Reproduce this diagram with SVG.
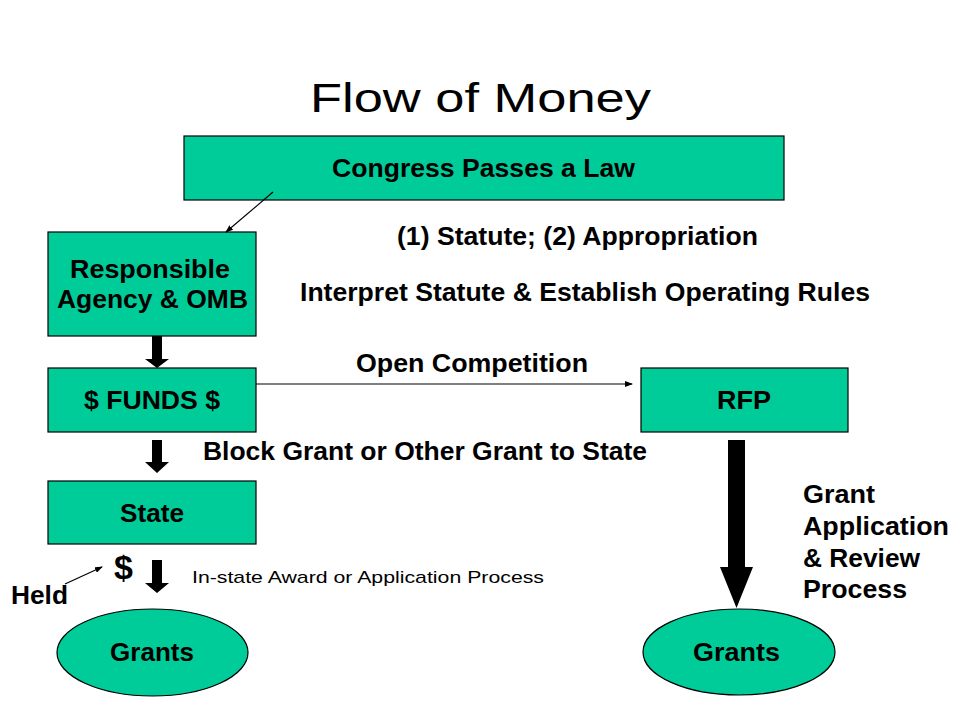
<svg xmlns="http://www.w3.org/2000/svg" width="960" height="720" viewBox="0 0 960 720">
<defs>
<style>
.box{fill:#00CC99;stroke:#000;stroke-width:1.2}
.t{font-family:"Liberation Sans",Arial,sans-serif;font-weight:bold;font-size:25px;fill:#000}
.title{font-family:"Liberation Sans",Arial,sans-serif;font-size:40px;fill:#000}
.small{font-family:"Liberation Sans",Arial,sans-serif;font-size:17px;fill:#000}
.thin{stroke:#000;stroke-width:1.2;fill:none;marker-end:url(#ah)}
.fat{fill:#000}
</style>
<marker id="ah" markerWidth="8" markerHeight="6" refX="7" refY="3" orient="auto" markerUnits="userSpaceOnUse">
<path d="M0,0 L8,3 L0,6 Z" fill="#000"/>
</marker>
</defs>
<rect width="960" height="720" fill="#fff"/>
<text class="title" x="310" y="112" textLength="341" lengthAdjust="spacingAndGlyphs">Flow of Money</text>

<g id="congress">
<rect class="box" x="184" y="136" width="600" height="64"/>
<text class="t" x="332" y="177" textLength="303" lengthAdjust="spacingAndGlyphs">Congress Passes a Law</text>
</g>
<g id="agency">
<rect class="box" x="48" y="232" width="208" height="104"/>
<text class="t" x="70" y="278" textLength="160" lengthAdjust="spacingAndGlyphs">Responsible</text>
<text class="t" x="57" y="308" textLength="191" lengthAdjust="spacingAndGlyphs">Agency &amp; OMB</text>
</g>
<g id="funds">
<rect class="box" x="48" y="368" width="208" height="64"/>
<text class="t" x="84" y="409" textLength="136" lengthAdjust="spacingAndGlyphs">$ FUNDS $</text>
</g>
<g id="rfp">
<rect class="box" x="641" y="368" width="207" height="64"/>
<text class="t" x="717" y="409" textLength="54" lengthAdjust="spacingAndGlyphs">RFP</text>
</g>
<g id="state">
<rect class="box" x="48" y="481" width="208" height="63"/>
<text class="t" x="120" y="522" textLength="64" lengthAdjust="spacingAndGlyphs">State</text>
</g>
<g id="grants-left">
<ellipse class="box" cx="152.5" cy="652.5" rx="95.5" ry="43.5"/>
<text class="t" x="110" y="661" textLength="84" lengthAdjust="spacingAndGlyphs">Grants</text>
</g>
<g id="grants-right">
<ellipse class="box" cx="739" cy="652" rx="96" ry="43"/>
<text class="t" x="693" y="661" textLength="87" lengthAdjust="spacingAndGlyphs">Grants</text>
</g>

<g id="connectors">
<line class="thin" x1="273" y1="192" x2="226" y2="232"/>
<line class="thin" x1="256" y1="384" x2="632" y2="384"/>
<line class="thin" x1="65" y1="584" x2="102" y2="567"/>
<polygon class="fat" points="152,336 162,336 162,359 169,359 157,368 145,359 152,359"/>
<polygon class="fat" points="152,440 162,440 162,462 169,462 157,473 145,462 152,462"/>
<polygon class="fat" points="152,560 162,560 162,583 169,583 157,593 145,583 152,583"/>
<polygon class="fat" points="728,440 745,440 745,567 753,567 736.5,608 720,567 728,567"/>
</g>

<g id="labels">
<text class="t" x="397" y="245" textLength="361" lengthAdjust="spacingAndGlyphs">(1) Statute; (2) Appropriation</text>
<text class="t" x="300" y="301" textLength="570" lengthAdjust="spacingAndGlyphs">Interpret Statute &amp; Establish Operating Rules</text>
<text class="t" x="356" y="372" textLength="232" lengthAdjust="spacingAndGlyphs">Open Competition</text>
<text class="t" x="203" y="460" textLength="444" lengthAdjust="spacingAndGlyphs">Block Grant or Other Grant to State</text>
<text class="t" x="114" y="579" style="font-size:34px">$</text>
<text class="t" x="11" y="604" textLength="57" lengthAdjust="spacingAndGlyphs">Held</text>
<text class="small" x="192" y="583" textLength="352" lengthAdjust="spacingAndGlyphs">In-state Award or Application Process</text>
<text class="t" x="803" y="503" textLength="72" lengthAdjust="spacingAndGlyphs">Grant</text>
<text class="t" x="803" y="535" textLength="146" lengthAdjust="spacingAndGlyphs">Application</text>
<text class="t" x="803" y="567" textLength="117" lengthAdjust="spacingAndGlyphs">&amp; Review</text>
<text class="t" x="803" y="598" textLength="104" lengthAdjust="spacingAndGlyphs">Process</text>
</g>
</svg>
